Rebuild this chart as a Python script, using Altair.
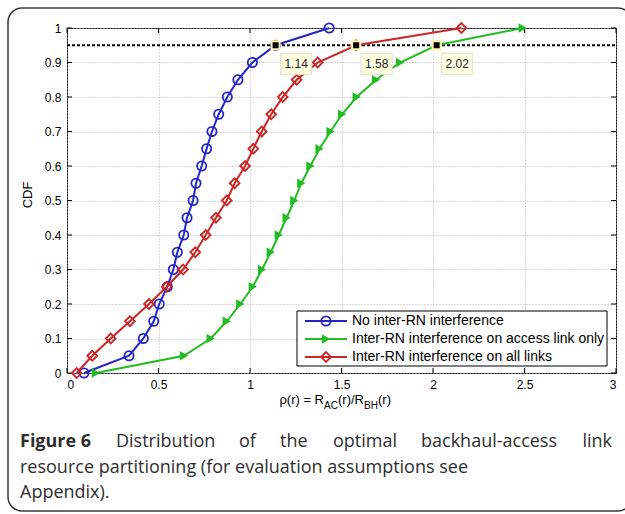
import altair as alt
import pandas as pd

# ---------------- data ----------------
cdf_levels = [0.0, 0.05, 0.1, 0.15, 0.2, 0.25, 0.3, 0.35, 0.4, 0.45, 0.5,
              0.55, 0.6, 0.65, 0.7, 0.75, 0.8, 0.85, 0.9, 0.95, 1.0]
blue_x = [0.093, 0.339, 0.417, 0.474, 0.504, 0.548, 0.581, 0.603, 0.638, 0.656, 0.689,
          0.705, 0.736, 0.763, 0.792, 0.829, 0.876, 0.934, 1.013, 1.14, 1.433]
green_x = [0.158, 0.639, 0.785, 0.873, 0.947, 1.015, 1.066, 1.113, 1.157, 1.2, 1.242,
           1.28, 1.33, 1.38, 1.44, 1.503, 1.583, 1.689, 1.82, 2.02, 2.49]
red_x = [0.053, 0.138, 0.239, 0.344, 0.448, 0.545, 0.634, 0.701, 0.758, 0.814, 0.873,
         0.916, 0.973, 1.018, 1.064, 1.116, 1.179, 1.255, 1.37, 1.58, 2.155]
series_names = ["No inter-RN interference",
                "Inter-RN interference on access link only",
                "Inter-RN interference on all links"]
threshold = [0.95]
tip_x = [1.14, 1.58, 2.02]
tip_labels = ["1.14", "1.58", "2.02"]
x_ticks = [0, 0.5, 1, 1.5, 2, 2.5, 3]
y_ticks = [0, 0.1, 0.2, 0.3, 0.4, 0.5, 0.6, 0.7, 0.8, 0.9, 1]
caption_line1 = ["Distribution", "of", "the", "optimal", "backhaul-access", "link"]
caption_line2 = "resource partitioning (for evaluation assumptions see"
caption_line3 = "Appendix)."

# ---------------- layout / style ----------------
W, H = 549, 345
X0, Y0 = 67, 28
BLUE, GREEN, RED = "#2424c8", "#22bb22", "#cc2525"
AXFONT = "Liberation Sans"
CAPFONT = "Open Sans"
CAPCOLOR = "#2e2e2e"

xs = alt.Scale(domain=[0, 3], nice=False, zero=False)
ys = alt.Scale(domain=[0, 1], nice=False, zero=False)


def X(f="x"):
    return alt.X(f"{f}:Q", scale=xs, axis=alt.Axis(values=x_ticks, format="~g", title=None,
                                                     ticks=False, domain=False, grid=True,
                                                     labelPadding=6))


def Y(f="y"):
    return alt.Y(f"{f}:Q", scale=ys, axis=alt.Axis(values=y_ticks, format="~g", title=None,
                                                     ticks=False, domain=False, grid=True,
                                                     labelPadding=6))


def one(txt=""):
    return pd.DataFrame({"t": [txt]})


layers = []

# frame around whole figure
layers.append(alt.Chart(one()).mark_rect(fill=None, stroke="#3a3a3a", strokeWidth=1.5,
                                         cornerRadius=14).encode(
    x=alt.value(8 - X0), x2=alt.value(632 - X0), y=alt.value(8 - Y0), y2=alt.value(511 - Y0)))

# inward ticks on all four sides
dfxt = pd.DataFrame({"x": x_ticks})
dfyt = pd.DataFrame({"y": y_ticks})
layers.append(alt.Chart(dfxt).mark_rule(color="black", strokeWidth=1).encode(
    x=X(), y=alt.value(H), y2=alt.value(H - 5)))
layers.append(alt.Chart(dfxt).mark_rule(color="black", strokeWidth=1).encode(
    x=X(), y=alt.value(0), y2=alt.value(5)))
layers.append(alt.Chart(dfyt).mark_rule(color="black", strokeWidth=1).encode(
    y=Y(), x=alt.value(0), x2=alt.value(5)))
layers.append(alt.Chart(dfyt).mark_rule(color="black", strokeWidth=1).encode(
    y=Y(), x=alt.value(W), x2=alt.value(W - 5)))

# threshold line
dfth = pd.DataFrame({"y": threshold})
layers.append(alt.Chart(dfth).mark_rule(color="black", strokeWidth=2, strokeDash=[3, 2]).encode(
    y=Y(), x=alt.value(0), x2=alt.value(W)))

# series
specs = [
    (blue_x, BLUE, dict(shape="circle", filled=False, size=85, strokeWidth=1.8)),
    (green_x, GREEN, dict(shape="triangle-right", filled=True, size=90)),
    (red_x, RED, dict(shape="diamond", filled=False, size=95, strokeWidth=1.8)),
]
for xv, col, pk in specs:
    df = pd.DataFrame({"x": xv, "y": cdf_levels})
    layers.append(alt.Chart(df).mark_line(color=col, strokeWidth=2).encode(
        x=X(), y=Y(), order=alt.Order("y:Q")))
    layers.append(alt.Chart(df).mark_point(color=col, opacity=1, **pk).encode(x=X(), y=Y()))

# data tips
dft = pd.DataFrame({"x": tip_x, "y": threshold * len(tip_x), "lab": tip_labels})
layers.append(alt.Chart(dft).mark_rect(fill="#ffffe1", stroke="#e0e0c8", strokeWidth=1,
                                       xOffset=5, x2Offset=36, yOffset=8, y2Offset=29).encode(
    x=X(), x2="x:Q", y=Y(), y2="y:Q"))
layers.append(alt.Chart(dft).mark_text(font=AXFONT, fontSize=12, color="#222", dx=20.5, dy=18.5,
                                       align="center", baseline="middle").encode(
    x=X(), y=Y(), text="lab:N"))
layers.append(alt.Chart(dft).mark_point(shape="square", filled=True, size=64, fill="black",
                                        stroke="#fff6b0", strokeWidth=2, opacity=1).encode(
    x=X(), y=Y()))

# legend (drawn manually to show line + marker)
LX1, LX2 = 297 - X0, 607 - X0
LY1, LY2 = 311 - Y0, 366 - Y0
layers.append(alt.Chart(one()).mark_rect(fill="white", stroke="black", strokeWidth=1).encode(
    x=alt.value(LX1), x2=alt.value(LX2), y=alt.value(LY1), y2=alt.value(LY2)))
entry_y = [321 - Y0, 339 - Y0, 357 - Y0]
for i, (xv, col, pk) in enumerate(specs):
    layers.append(alt.Chart(one()).mark_rule(color=col, strokeWidth=2).encode(
        x=alt.value(305 - X0), x2=alt.value(347 - X0), y=alt.value(entry_y[i])))
    layers.append(alt.Chart(one()).mark_point(color=col, opacity=1, **pk).encode(
        x=alt.value(326 - X0), y=alt.value(entry_y[i])))
    layers.append(alt.Chart(one(series_names[i])).mark_text(
        font=AXFONT, fontSize=14, color="black", align="left", baseline="middle").encode(
        x=alt.value(352 - X0), y=alt.value(entry_y[i]), text="t:N"))

# axis titles
layers.append(alt.Chart(one("CDF")).mark_text(font=AXFONT, fontSize=13, color="black", angle=270,
                                              align="center", baseline="middle").encode(
    x=alt.value(28 - X0), y=alt.value(195 - Y0), text="t:N"))
P = 324 - X0
BASE = 404 - Y0
SUB = 409 - Y0
xt_pieces = [("\u03c1(r) = R", P, BASE, 13, "right"),
             ("AC", P, SUB, 10, "left"),
             ("(r)/R", P + 14, BASE, 13, "left"),
             ("BH", P + 40, SUB, 10, "left"),
             ("(r)", P + 54, BASE, 13, "left")]
for txt, px, py, fs, al in xt_pieces:
    layers.append(alt.Chart(one(txt)).mark_text(font=AXFONT, fontSize=fs, color="black",
                                                align=al, baseline="alphabetic").encode(
        x=alt.value(px), y=alt.value(py), text="t:N"))

# caption
CAP_FS = 18
layers.append(alt.Chart(one("Figure 6")).mark_text(font=CAPFONT, fontSize=CAP_FS, fontWeight="bold",
                                                   color=CAPCOLOR, align="left",
                                                   baseline="alphabetic").encode(
    x=alt.value(20 - X0), y=alt.value(447 - Y0), text="t:N"))
word_x = [116, 239, 280, 333, 421, 612]
for w, wx in zip(caption_line1, word_x):
    al = "right" if w == caption_line1[-1] else "left"
    layers.append(alt.Chart(one(w)).mark_text(font=CAPFONT, fontSize=CAP_FS, fontWeight=500,
                                              color=CAPCOLOR, align=al,
                                              baseline="alphabetic").encode(
        x=alt.value(wx - X0), y=alt.value(447 - Y0), text="t:N"))
for txt, by in [(caption_line2, 473), (caption_line3, 498)]:
    layers.append(alt.Chart(one(txt)).mark_text(font=CAPFONT, fontSize=CAP_FS, fontWeight=500,
                                                color=CAPCOLOR, align="left",
                                                baseline="alphabetic").encode(
        x=alt.value(20 - X0), y=alt.value(by - Y0), text="t:N"))

chart = alt.layer(*layers).properties(
    width=W, height=H, autosize=alt.AutoSizeParams(type="none"),
    padding={"left": X0, "top": Y0, "right": 625 - X0 - W, "bottom": 514 - Y0 - H},
    background="white",
).configure_view(stroke="black", strokeWidth=1).configure_axis(
    labelFont=AXFONT, labelFontSize=12, labelColor="black",
    gridColor="#b0b0b0", gridDash=[1, 2], gridWidth=1, gridOpacity=1,
)

chart.save("out.html", embed_options={"renderer": "svg", "actions": False})
